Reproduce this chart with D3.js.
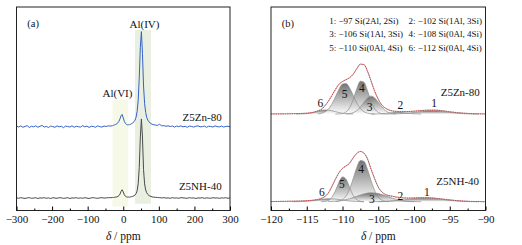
<!DOCTYPE html>
<html>
<head>
<meta charset="utf-8">
<script src="https://cdn.jsdelivr.net/npm/d3@7"></script>
<style>
  body { margin: 0; background: #fff; }
  svg text { font-family: "Liberation Serif", "Times New Roman", serif; fill: #111; }
</style>
</head>
<body>
<script>
// ---------- panel (a): 27Al MAS NMR ----------
// sample grid (ppm), finer around the peaks
const ppmA = d3.range(-300, -35, 6).concat(d3.range(-30, 85, 3), d3.range(90, 301, 6));

const z5zn80A = [
  0.3,-0.2,0.4,-0.3,0.1,0.5,-0.4,0.2,-0.1,0.4,
  -0.3,0.2,0.6,-0.2,0.1,-0.4,0.3,0.0,-0.3,0.4,
  -0.1,0.2,-0.5,0.3,0.1,-0.2,0.4,-0.3,0.2,0.0,
  -0.2,0.5,-0.1,0.3,-0.4,0.2,0.1,-0.3,0.4,0.0,
  -0.2,0.3,0.1,0.4,0.3,
  0.5,0.7,0.9,1.1,1.4,1.9,2.7,3.9,5.5,6.0,
  4.3,2.6,1.7,1.1,0.9,0.9,1.0,1.2,1.5,1.9,
  2.4,3.2,4.6,7.5,13,24,39,46.7,36,20,
  11.5,7.0,4.5,3.2,2.4,1.9,1.5,1.2,1.0,
  0.8,0.6,1.2,0.4,0.5,0.2,0.4,0.1,0.3,-0.2,
  0.3,0.0,0.4,-0.1,0.2,-0.3,0.3,0.1,-0.2,0.2,
  0.4,-0.1,0.0,0.3,-0.3,0.2,0.1,-0.2,0.4,0.0,
  -0.1,0.3,-0.2,0.1,0.2,-0.1
];
const z5nh40A = [
  0.1,-0.1,0.2,0.0,-0.2,0.1,0.2,-0.1,0.0,0.2,
  -0.2,0.1,0.0,0.2,-0.1,0.1,-0.2,0.2,0.0,-0.1,
  0.2,0.1,-0.1,0.0,0.2,-0.2,0.1,0.0,0.2,-0.1,
  0.1,-0.1,0.2,0.0,-0.2,0.1,0.2,0.0,-0.1,0.1,
  0.2,0.0,0.1,0.2,0.2,
  0.3,0.3,0.4,0.5,0.6,0.8,1.2,2.0,3.4,4.1,
  3.0,1.6,0.9,0.6,0.5,0.5,0.5,0.6,0.7,0.9,
  1.1,1.5,2.2,3.6,7.0,15,30,38.9,30,14,
  7.0,4.0,2.6,1.8,1.3,1.0,0.8,0.6,0.5,
  0.4,0.3,0.2,0.1,0.2,0.0,0.1,-0.1,0.2,0.0,
  0.1,-0.1,0.2,0.1,0.0,-0.1,0.2,0.0,0.1,-0.2,
  0.1,0.0,0.2,-0.1,0.1,0.0,-0.1,0.2,0.0,0.1,
  -0.1,0.1,0.0,0.2,-0.1,0.1
];
const alBandNames = ["Al(VI)", "Al(IV)"];
const alBandRanges = [[-30, 14], [33, 78]];
const alBandColors = ["#f7f9e8", "#e9f0e2"];
const alLabelPos = [[-16.3, 57.9], [59.6, 91.8]];

// ---------- panel (b): 29Si MAS NMR deconvolution ----------
const siAssign = [
  "1: \u221297 Si(2Al, 2Si)", "2: \u2212102 Si(1Al, 3Si)",
  "3: \u2212106 Si(1Al, 3Si)", "4: \u2212108 Si(0Al, 4Si)",
  "5: \u2212110 Si(0Al, 4Si)", "6: \u2212112 Si(0Al, 4Si)"
];

const znEnv = [[-120,0.05],[-118,0.1],[-116,0.25],[-115,0.4],[-114.5,0.6],[-114,0.9],[-113.5,1.5],[-113,2.2],
  [-112.5,3.9],[-112,6.2],[-111.5,9.0],[-111,12.0],[-110.5,14.6],[-110,16.0],[-109.5,16.9],[-109,17.9],
  [-108.5,19.6],[-108,22.3],[-107.5,24.5],[-107,24.3],[-106.5,21.0],[-106,16.2],[-105.5,11.2],[-105,7.3],
  [-104.5,4.4],[-104,2.9],[-103.5,2.0],[-103,1.5],[-102.5,1.3],[-102,1.2],[-101,1.2],[-100,1.4],[-99,1.7],
  [-98,1.9],[-97,1.9],[-96,1.6],[-95,1.1],[-94,0.7],[-93,0.4],[-92,0.2],[-90,0.05]];
const znC1 = [[-104,0.01],[-103,0.06],[-102,0.17],[-101,0.41],[-100,0.8],[-99,1.25],[-98,1.56],[-97,1.56],
  [-96,1.25],[-95,0.8],[-94,0.41],[-93,0.17],[-92,0.06],[-91,0.01]];
const znC2 = [[-106,0.01],[-105,0.06],[-104.5,0.15],[-104,0.3],[-103.5,0.5],[-103,0.68],[-102.5,0.79],[-102,0.78],
  [-101.5,0.66],[-101,0.47],[-100.5,0.29],[-100,0.15],[-99.5,0.07],[-99,0.02]];
const znC3 = [[-109.5,0.05],[-109,0.22],[-108.5,0.68],[-108,1.7],[-107.5,3.5],[-107,5.84],[-106.5,7.94],[-106,8.8],
  [-105.5,7.94],[-105,5.84],[-104.5,3.5],[-104,1.7],[-103.5,0.68],[-103,0.22],[-102.5,0.05]];
const znC4 = [[-111,0],[-110.5,0.05],[-110,0.25],[-109.5,1.03],[-109,3.15],[-108.5,7.23],[-108,12.46],[-107.5,16.13],
  [-107,15.67],[-106.5,11.43],[-106,6.27],[-105.5,2.58],[-105,0.8],[-104.5,0.18],[-104,0.03]];
const znC5 = [[-113.5,0.09],[-113,0.32],[-112.5,0.95],[-112,2.34],[-111.5,4.83],[-111,8.36],[-110.5,12.12],[-110,14.72],
  [-109.5,14.99],[-109,12.78],[-108.5,9.14],[-108,5.47],[-107.5,2.74],[-107,1.15],[-106.5,0.41],[-106,0.12],[-105.5,0.03]];
const znC6 = [[-116.5,0.01],[-116,0.03],[-115.5,0.09],[-115,0.21],[-114.5,0.45],[-114,0.82],[-113.5,1.28],[-113,1.72],
  [-112.5,1.98],[-112,1.95],[-111.5,1.64],[-111,1.19],[-110.5,0.74],[-110,0.39],[-109.5,0.18],[-109,0.07],[-108.5,0.02]];

const nhEnv = [[-120,0.1],[-118,0.2],[-116,0.35],[-115,0.5],[-114,0.8],[-113.5,1.1],[-113,1.6],[-112.5,2.5],
  [-112,4.2],[-111.5,7.4],[-111,11.0],[-110.5,14.2],[-110,16.4],[-109.5,17.6],[-109,19.0],[-108.5,21.6],
  [-108,23.8],[-107.5,24.7],[-107,23.9],[-106.5,21.0],[-106,16.0],[-105.5,11.3],[-105,7.2],[-104.5,4.8],
  [-104,3.6],[-103.5,3.0],[-103,2.7],[-102.5,2.3],[-102,2.1],[-101,1.8],[-100,1.85],[-99,1.95],[-98,1.95],
  [-97,1.7],[-96,1.3],[-95,0.9],[-94,0.55],[-93,0.3],[-92,0.15],[-90,0.05]];
const nhC1 = [[-106,0.02],[-105,0.07],[-104,0.18],[-103,0.38],[-102,0.70],[-101,1.11],[-100,1.51],[-99,1.77],
  [-98,1.77],[-97,1.51],[-96,1.11],[-95,0.70],[-94,0.38],[-93,0.18],[-92,0.07],[-91,0.02]];
const nhC2 = [[-105,0.02],[-104.5,0.06],[-104,0.14],[-103.5,0.27],[-103,0.42],[-102.5,0.5],[-102,0.42],[-101.5,0.27],
  [-101,0.14],[-100.5,0.06],[-100,0.02]];
const nhC3 = [[-112,0.07],[-111,0.25],[-110,0.68],[-109,1.52],[-108,2.70],[-107,3.85],[-106,4.40],[-105,4.02],
  [-104,2.95],[-103,1.73],[-102,0.81],[-101,0.31],[-100,0.09],[-99,0.02]];
const nhC4 = [[-111,0.08],[-110.5,0.31],[-110,1.04],[-109.5,2.83],[-109,6.3],[-108.5,11.42],[-108,16.85],[-107.5,20.27],
  [-107,19.85],[-106.5,15.85],[-106,10.3],[-105.5,5.46],[-105,2.36],[-104.5,0.83],[-104,0.24],[-103.5,0.06]];
const nhC5 = [[-113,0.02],[-112.5,0.11],[-112,0.58],[-111.5,2.09],[-111,5.32],[-110.5,9.58],[-110,12.21],[-109.5,11.01],
  [-109,7.02],[-108.5,3.16],[-108,1.01],[-107.5,0.23],[-107,0.04]];
const nhC6 = [[-117,0.01],[-116,0.07],[-115,0.25],[-114,0.65],[-113,1.17],[-112,1.49],[-111,1.34],[-110,0.86],
  [-109,0.39],[-108,0.12],[-107,0.03]];

// peak-number anchors [ppm, height above baseline], labels 1..6
const znNumPos = [[-97.2,5.4],[-101.9,4.6],[-106.2,3.7],[-107.3,12.7],[-109.7,9.8],[-113.1,5.4]];
const nhNumPos = [[-98.2,4.7],[-101.9,2.7],[-105.9,1.5],[-107.4,16.2],[-110.1,8.5],[-112.9,4.7]];

// ---------- layout ----------
const W = 522, H = 245;
const boxA = {l: 16.5, r: 230, t: 7, b: 210.5};
const boxB = {l: 271, r: 485.5, t: 7, b: 210.5};
const offA = {zn: 41.2, nh: 6.1};
const offB = {zn: 47.4, nh: 4.3};

const svg = d3.select("body").append("svg")
    .attr("width", W).attr("height", H)
    .style("display", "block");

const xA = d3.scaleLinear().domain([-300, 300]).range([boxA.l, boxA.r]);
const yA = d3.scaleLinear().domain([0, 100]).range([boxA.b, boxA.t]);
const xB = d3.scaleLinear().domain([-120, -90]).range([boxB.l, boxB.r]);
const yB = d3.scaleLinear().domain([0, 100]).range([boxB.b, boxB.t]);

// shaded bands
const bandTops = [54.3, 88.7], bandBots = [2, 3.3];
svg.append("g").selectAll("rect")
  .data(alBandRanges)
  .join("rect")
    .attr("x", d => xA(d[0]))
    .attr("width", d => xA(d[1]) - xA(d[0]))
    .attr("y", (d, i) => yA(bandTops[i]))
    .attr("height", (d, i) => yA(bandBots[i]) - yA(bandTops[i]))
    .attr("fill", (d, i) => alBandColors[i]);

// spectra (a)
function lineA(off) {
  return d3.line().x((d, i) => xA(ppmA[i])).y(d => yA(d + off));
}
svg.append("path").attr("d", lineA(offA.nh)(z5nh40A))
  .attr("fill", "none").attr("stroke", "#4a4a4a").attr("stroke-width", 1);
svg.append("path").attr("d", lineA(offA.zn)(z5zn80A))
  .attr("fill", "none").attr("stroke", "#3561c4").attr("stroke-width", 1);

svg.append("g").selectAll("text")
  .data(alBandNames)
  .join("text")
    .attr("x", (d, i) => xA(alLabelPos[i][0]))
    .attr("y", (d, i) => yA(alLabelPos[i][1]))
    .attr("dy", "0.35em")
    .attr("text-anchor", "middle")
    .attr("font-size", 11)
    .text(d => d);

svg.append("text").attr("x", xA(276.6)).attr("y", yA(45.9)).attr("dy", "0.35em")
  .attr("text-anchor", "end").attr("font-size", 11).text("Z5Zn-80");
svg.append("text").attr("x", xA(276.6)).attr("y", yA(11.8)).attr("dy", "0.35em")
  .attr("text-anchor", "end").attr("font-size", 11).text("Z5NH-40");

// ---------- panel (b) drawing ----------
const defs = svg.append("defs");
const grad = defs.append("linearGradient").attr("id", "compGrad")
  .attr("x1", 0).attr("y1", 0).attr("x2", 0).attr("y2", 1);
grad.append("stop").attr("offset", "0%").attr("stop-color", "#5a5a5a");
grad.append("stop").attr("offset", "100%").attr("stop-color", "#ffffff");

const drawOrder = [5, 0, 1, 4, 3, 2];

function drawSample(env, comps, nums, off) {
  const g = svg.append("g");
  const area = d3.area().x(d => xB(d[0])).y0(yB(off)).y1(d => yB(d[1] + off)).curve(d3.curveMonotoneX);
  const line = d3.line().x(d => xB(d[0])).y(d => yB(d[1] + off)).curve(d3.curveMonotoneX);
  drawOrder.forEach(k => {
    g.append("path").attr("d", area(comps[k]))
      .attr("fill", "url(#compGrad)").attr("fill-opacity", 0.85);
  });
  comps.forEach(c => {
    g.append("path").attr("d", line(c))
      .attr("fill", "none").attr("stroke", "#8c8c8c").attr("stroke-width", 0.7);
  });
  g.append("path").attr("d", line(env))
    .attr("fill", "none").attr("stroke", "#9a9a9a").attr("stroke-width", 0.8);
  g.append("path").attr("d", line(env))
    .attr("fill", "none").attr("stroke", "#d83a3a").attr("stroke-width", 0.9)
    .attr("stroke-dasharray", "1.4,0.9");
  g.selectAll("text.num")
    .data(nums)
    .join("text")
      .attr("class", "num")
      .attr("x", d => xB(d[0]))
      .attr("y", d => yB(d[1] + off))
      .attr("dy", "0.35em")
      .attr("text-anchor", "middle")
      .attr("font-size", 11.5)
      .text((d, i) => i + 1);
}
drawSample(znEnv, [znC1, znC2, znC3, znC4, znC5, znC6], znNumPos, offB.zn);
drawSample(nhEnv, [nhC1, nhC2, nhC3, nhC4, nhC5, nhC6], nhNumPos, offB.nh);

svg.append("text").attr("x", xB(-90.8)).attr("y", yB(58.0)).attr("dy", "0.35em")
  .attr("text-anchor", "end").attr("font-size", 11).text("Z5Zn-80");
svg.append("text").attr("x", xB(-90.9)).attr("y", yB(14.4)).attr("dy", "0.35em")
  .attr("text-anchor", "end").attr("font-size", 11).text("Z5NH-40");

// assignment list
const colX = [329.3, 408.5], rowY = [20.7, 34.3, 48.3];
svg.append("g").selectAll("text")
  .data(siAssign)
  .join("text")
    .attr("x", (d, i) => colX[i % 2])
    .attr("y", (d, i) => rowY[Math.floor(i / 2)])
    .attr("dy", "0.35em")
    .attr("font-size", 9)
    .text(d => d);

// ---------- frames, axes, labels ----------
function frameAndAxis(box, x, major, minor, tag) {
  svg.append("rect")
    .attr("x", box.l).attr("y", box.t)
    .attr("width", box.r - box.l).attr("height", box.b - box.t)
    .attr("fill", "none").attr("stroke", "#222").attr("stroke-width", 1);

  const ax = svg.append("g").attr("transform", `translate(0,${box.b})`)
    .call(d3.axisBottom(x).tickValues(major).tickSize(-4).tickSizeOuter(0).tickPadding(5));
  ax.attr("font-family", null).attr("font-size", 11);
  ax.select(".domain").remove();

  const mi = svg.append("g").attr("transform", `translate(0,${box.b})`)
    .call(d3.axisBottom(x).tickValues(minor).tickSize(-2).tickSizeOuter(0).tickFormat(""));
  mi.select(".domain").remove();

  const t = svg.append("text")
    .attr("x", (box.l + box.r) / 2).attr("y", 240)
    .attr("text-anchor", "middle").attr("font-size", 11.5);
  t.append("tspan").attr("font-style", "italic").text("\u03b4");
  t.append("tspan").text(" / ppm");

  svg.append("text").attr("x", box.l + 10.8).attr("y", 23.3).attr("dy", "0.35em")
    .attr("font-size", 10.5).text(tag);
}
frameAndAxis(boxA, xA, d3.range(-300, 301, 100), d3.range(-250, 300, 100), "(a)");
frameAndAxis(boxB, xB, d3.range(-120, -89, 5), d3.range(-117.5, -90, 5), "(b)");
</script>
</body>
</html>
